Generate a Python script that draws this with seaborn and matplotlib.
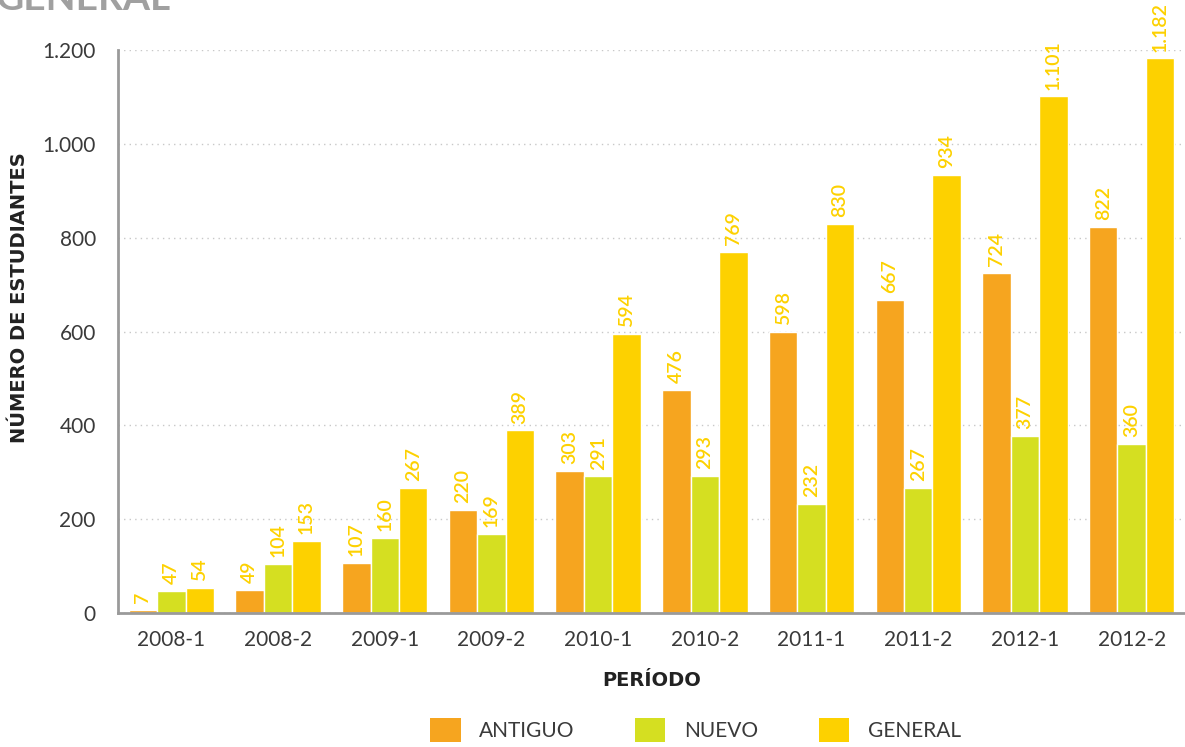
import matplotlib
matplotlib.use("Agg")
import matplotlib.pyplot as plt
import seaborn as sns
import pandas as pd
from matplotlib.patches import Patch
from matplotlib.ticker import FuncFormatter, FixedLocator

periodos = ["2008-1", "2008-2", "2009-1", "2009-2", "2010-1",
            "2010-2", "2011-1", "2011-2", "2012-1", "2012-2"]
antiguo = [7, 49, 107, 220, 303, 476, 598, 667, 724, 822]
nuevo = [47, 104, 160, 169, 291, 293, 232, 267, 377, 360]
general = [54, 153, 267, 389, 594, 769, 830, 934, 1101, 1182]
series = ["ANTIGUO", "NUEVO", "GENERAL"]
colors = ["#F6A51F", "#D5DF21", "#FDD100"]
yticks = [0, 200, 400, 600, 800, 1000, 1200]

df = pd.DataFrame({
    "periodo": periodos * 3,
    "serie": [series[0]] * 10 + [series[1]] * 10 + [series[2]] * 10,
    "valor": antiguo + nuevo + general,
})

sns.set_style("white")
plt.rcParams["font.family"] = ["Lato", "DejaVu Sans"]

fig = plt.figure(figsize=(11.85, 7.47), dpi=100)
ax = fig.add_axes([118 / 1185, 1 - 613 / 747, 1 - 118 / 1185, (613 - 50) / 747])

sns.barplot(data=df, x="periodo", y="valor", hue="serie", order=periodos,
            hue_order=series, palette=colors, width=0.8, saturation=1,
            edgecolor="white", linewidth=1, ax=ax, legend=False)

ax.set_xlim(-0.5, 9.5)
ax.set_ylim(0, 1200)

def fmt(v):
    return f"{int(v):,}".replace(",", ".")

for cont in ax.containers:
    ax.bar_label(cont, labels=[fmt(b.get_height()) for b in cont],
                 rotation=90, padding=5, color="#FDD100", fontsize=14,
                 fontweight="semibold", clip_on=False)

ax.yaxis.set_major_locator(FixedLocator(yticks))
ax.yaxis.set_major_formatter(FuncFormatter(lambda v, p: fmt(v)))
ax.grid(axis="y", color="#c8c8c8", linestyle=(0, (1, 3)), linewidth=1)
ax.set_axisbelow(True)

for s in ["top", "right"]:
    ax.spines[s].set_visible(False)
for s in ["left", "bottom"]:
    ax.spines[s].set_color("#9a9a9a")
    ax.spines[s].set_linewidth(2)

ax.tick_params(axis="y", direction="in", length=15, width=2, color="#9a9a9a",
               labelsize=15, labelcolor="#3a3a3a", pad=16)
ax.tick_params(axis="x", which="major", length=0, labelsize=15,
               labelcolor="#3a3a3a", pad=12)
ax.set_xticks([i + 0.5 for i in range(9)], minor=True)
ax.tick_params(axis="x", which="minor", direction="in", length=12, width=2,
               color="#9a9a9a")

ax.set_xlabel("PERÍODO", fontsize=14, fontweight="bold", color="#222222",
              labelpad=15, family=["DejaVu Sans"])
ax.set_ylabel("NÚMERO DE ESTUDIANTES", fontsize=14, fontweight="bold",
              color="#222222", family=["DejaVu Sans"])
ax.yaxis.set_label_coords(-0.083, 0.56)

fig.text(-0.004, 0.987, "GENERAL", fontsize=28, fontweight="bold",
         color="#a0a0a0", va="baseline", ha="left")

handles = [Patch(facecolor=c, edgecolor="none") for c in colors]
fig.legend(handles, series, loc="center", bbox_to_anchor=(0.587, 0.023),
           ncol=3, frameon=False, fontsize=15, handlelength=1.45,
           handleheight=1.4, handletextpad=0.9, columnspacing=2.9,
           labelcolor="#3a3a3a")

fig.savefig("out.png", dpi=100)
